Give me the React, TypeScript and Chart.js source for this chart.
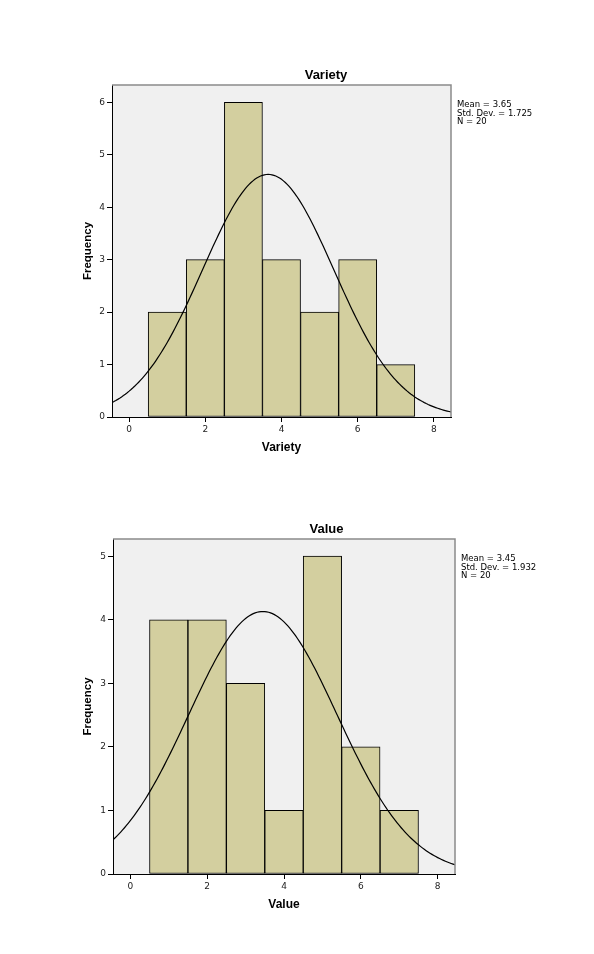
import React, { useEffect, useRef } from "react";
import Chart from "chart.js/auto";

// histogram bins (centred on whole numbers, width 1)
const bins = [1, 2, 3, 4, 5, 6, 7];
const varietyFreq = [2, 3, 6, 3, 2, 3, 1];
const valueFreq = [4, 4, 3, 1, 5, 2, 1];

const varietyStats = [3.65, 1.725, 20]; // mean, sd, n
const valueStats = [3.45, 1.932, 20];

const xTicks = [0, 2, 4, 6, 8];

const FONT = "'DejaVu Sans', sans-serif";
const BOLD = "'Liberation Sans', Arial, sans-serif";
const W = 594;
const H = 477;

interface HistProps {
  title: string;
  freq: number[];
  stats: number[];
  yMax: number;
  area: { left: number; right: number; top: number; bottom: number };
}

// normal curve scaled to frequency (n * binwidth * pdf)
function normalCurve(mean: number, sd: number, n: number) {
  const pts: { x: number; y: number }[] = [];
  for (let x = -0.6; x <= 8.6; x += 0.05) {
    const z = (x - mean) / sd;
    pts.push({ x, y: (n / (sd * Math.sqrt(2 * Math.PI))) * Math.exp(-0.5 * z * z) });
  }
  return pts;
}

const Histogram: React.FC<HistProps> = ({ title, freq, stats, yMax, area }) => {
  const chartRef = useRef<HTMLCanvasElement>(null);

  useEffect(() => {
    if (!chartRef.current) return;
    const ctx = chartRef.current.getContext("2d");
    if (!ctx) return;
    const [mean, sd, n] = stats;
    const padLeft = 74;
    const xAxisH = 45;

    const framePlugin = {
      id: "frame",
      beforeDraw(chart: any) {
        const { left, right, top, bottom } = chart.chartArea;
        const c = chart.ctx;
        c.save();
        c.fillStyle = "#f0f0f0";
        c.fillRect(left, top, right - left, bottom - top);
        c.restore();
      },
      afterDraw(chart: any) {
        const { left, right, top, bottom } = chart.chartArea;
        const c = chart.ctx;
        c.save();
        c.strokeStyle = "#8a8a8a";
        c.lineWidth = 1.5;
        c.beginPath();
        c.moveTo(left, top);
        c.lineTo(right, top);
        c.lineTo(right, bottom);
        c.stroke();
        // title
        c.fillStyle = "#000";
        c.font = `bold 13px ${BOLD}`;
        c.textAlign = "center";
        c.textBaseline = "middle";
        c.fillText(title, (left + 540) / 2, top - 10);
        // stats
        c.font = `8.5px ${FONT}`;
        c.textAlign = "left";
        const lines = [`Mean = ${mean}`, `Std. Dev. = ${sd}`, `N = ${n}`];
        lines.forEach((t, i) => c.fillText(t, right + 6, top + 20 + i * 8.5));
        c.restore();
      },
    };

    const chart = new Chart(ctx, {
      type: "bar",
      data: {
        datasets: [
          {
            type: "line",
            data: normalCurve(mean, sd, n),
            borderColor: "#000",
            borderWidth: 1.2,
            pointRadius: 0,
            fill: false,
            order: 0,
          } as any,
          {
            type: "bar",
            data: bins.map((b, i) => ({ x: b, y: freq[i] })),
            backgroundColor: "#d3cf9f",
            borderColor: "#000",
            borderWidth: 1,
            borderSkipped: false,
            barPercentage: 1,
            categoryPercentage: 1,
            order: 1,
          },
        ],
      },
      options: {
        animation: false,
        responsive: false,
        devicePixelRatio: 1,
        layout: {
          padding: {
            left: padLeft,
            top: area.top,
            right: W - area.right,
            bottom: H - area.bottom - xAxisH,
          },
        },
        plugins: { legend: { display: false }, tooltip: { enabled: false }, title: { display: false } },
        scales: {
          x: {
            type: "linear",
            min: -0.45,
            max: 8.45,
            offset: false,
            afterBuildTicks: (s: any) => {
              s.ticks = xTicks.map((v) => ({ value: v }));
            },
            ticks: { font: { family: FONT, size: 9 }, color: "#222", padding: 2, maxRotation: 0 },
            grid: { drawOnChartArea: false, drawTicks: true, tickLength: 5, color: "#000", offset: false },
            border: { color: "#000" },
            title: {
              display: true,
              text: title,
              font: { family: BOLD, size: 12, weight: "bold" },
              color: "#000",
              padding: { top: 0, bottom: 7 },
            },
            afterFit: (s: any) => {
              s.height = xAxisH;
            },
          },
          y: {
            min: 0,
            max: yMax,
            ticks: { stepSize: 1, includeBounds: false, font: { family: FONT, size: 9 }, color: "#222", padding: 2 },
            grid: { drawOnChartArea: false, drawTicks: true, tickLength: 5, color: "#000" },
            border: { color: "#000" },
            title: {
              display: true,
              text: "Frequency",
              font: { family: BOLD, size: 11.5, weight: "bold" },
              color: "#000",
              padding: { top: 7, bottom: 0 },
            },
            afterFit: (s: any) => {
              s.width = area.left - padLeft;
            },
          },
        },
      },
      plugins: [framePlugin],
    });

    return () => {
      chart.destroy();
    };
  }, [title, freq, stats, yMax, area]);

  return <canvas ref={chartRef} width={W} height={H} style={{ display: "block", width: W, height: H }} />;
};

const App: React.FC = () => {
  return (
    <div style={{ position: "absolute", left: 0, top: 0, width: W, height: 954, background: "#fff" }}>
      <Histogram
        title="Variety"
        freq={varietyFreq}
        stats={varietyStats}
        yMax={6.33}
        area={{ left: 112, right: 451, top: 85, bottom: 417 }}
      />
      <Histogram
        title="Value"
        freq={valueFreq}
        stats={valueStats}
        yMax={5.27}
        area={{ left: 113, right: 455, top: 62, bottom: 397 }}
      />
    </div>
  );
};

export default App;
